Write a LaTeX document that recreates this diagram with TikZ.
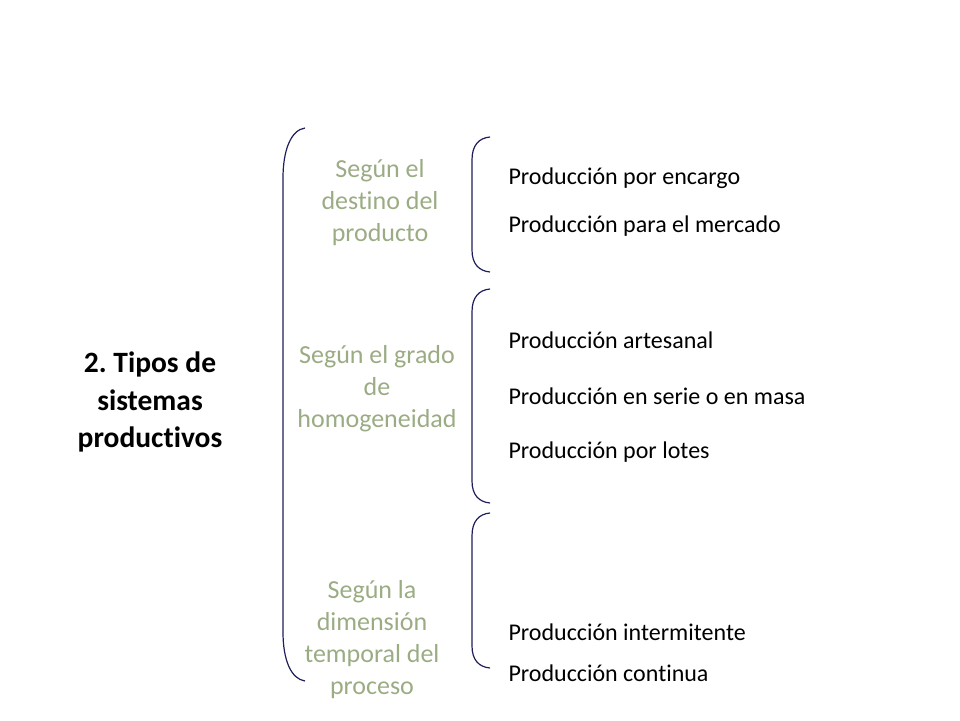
\documentclass[tikz,border=0pt]{standalone}
\usepackage{fontspec}
\setmainfont{Carlito}[Ligatures={NoCommon}]
\definecolor{verdegris}{RGB}{155,172,132}
\definecolor{azulllave}{RGB}{30,30,90}
\newcommand{\izq}{472}
\newcommand{\der}{490}
\frenchspacing

\begin{document}
\begin{tikzpicture}[x=1pt,y=-1pt,
        titulo/.style={align=center,font={\fontsize{29.5}{37.5}\selectfont\bfseries}},
        categoria/.style={align=center,text=verdegris,font={\fontsize{26}{32}\selectfont}},
        item/.style={anchor=west,font={\fontsize{24}{28}\selectfont}},
        llave/.style={draw=azulllave,line width=1.2pt}]

        % Fix the page size
        \useasboundingbox (0,0) rectangle (960,720);

        % Main title
        \node[titulo] (tipos) at (150,402) {2. Tipos de\\sistemas\\productivos};

        % Big bracket
        \draw[llave] (305,128) .. controls (291,130) and (283,150) .. (283,178)
            -- (283,632) .. controls (283,660) and (291,679) .. (305,681);

        % Categories
        \node[categoria] (destino) at (380,203) {Según el\\destino del\\producto};
        \node[categoria] (grado) at (377,389) {Según el grado\\de\\homogeneidad};
        \node[categoria] (temporal) at (372,640) {Según la\\dimensión\\temporal del\\proceso};

        % Small brackets
        \draw[llave] (\der,137) .. controls (479,138) and (\izq,145) .. (\izq,160)
            -- (\izq,250) .. controls (\izq,264) and (479,271) .. (\der,272);
        \draw[llave] (\der,289) .. controls (479,290) and (\izq,297) .. (\izq,312)
            -- (\izq,481) .. controls (\izq,495) and (479,502) .. (\der,503);
        \draw[llave] (\der,513) .. controls (479,514) and (\izq,521) .. (\izq,536)
            -- (\izq,646) .. controls (\izq,660) and (479,667) .. (\der,668);

        % Items
        \node[item] (encargo) at (505,178) {Producción por encargo};
        \node[item] (mercado) at (505,226) {Producción para el mercado};
        \node[item] (artesanal) at (505,340) {Producción artesanal};
        \node[item] (serie) at (505,396) {Producción en serie o en masa};
        \node[item] (lotes) at (505,452) {Producción por lotes};
        \node[item] (intermitente) at (505,632) {Producción intermitente};
        \node[item] (continua) at (505,673) {Producción continua};
    \end{tikzpicture}
\end{document}
